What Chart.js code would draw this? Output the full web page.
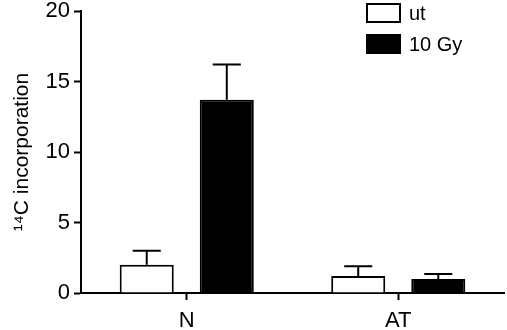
<!DOCTYPE html>
<html>
<head>
<meta charset="utf-8">
<script src="https://cdn.jsdelivr.net/npm/chart.js@4/dist/chart.umd.min.js"></script>
<style>
    html, body { margin: 0; padding: 0; background: #fff; }
</style>
</head>
<body>
<canvas id="chart" width="507" height="330"></canvas>
<script>
const categories = ['N', 'AT'];
const seriesNames = ['ut', '10 Gy'];
const utValues = [2.0, 1.2];
const utErrors = [3.0, 1.9];
const gyValues = [13.7, 1.0];
const gyErrors = [16.2, 1.35];
const yTicks = [0, 5, 10, 15, 20];

const FONT = 'Liberation Sans, Arial, sans-serif';

// upward-only error bars with a cap
const errorBars = {
    id: 'errorBars',
    afterDatasetsDraw(chart) {
        const ctx = chart.ctx;
        const yScale = chart.scales.y;
        ctx.save();
        ctx.strokeStyle = '#000';
        ctx.lineWidth = 2;
        chart.data.datasets.forEach((ds, i) => {
            chart.getDatasetMeta(i).data.forEach((bar, j) => {
                const top = yScale.getPixelForValue(ds.errorTop[j]);
                const cap = bar.width * 0.26;
                ctx.beginPath();
                ctx.moveTo(bar.x, bar.y);
                ctx.lineTo(bar.x, top);
                ctx.moveTo(bar.x - cap, top);
                ctx.lineTo(bar.x + cap, top);
                ctx.stroke();
            });
        });
        ctx.restore();
    }
};

const boxLegend = {
    id: 'boxLegend',
    afterDraw(chart) {
        const ctx = chart.ctx;
        ctx.save();
        ctx.font = '20px ' + FONT;
        ctx.textBaseline = 'middle';
        chart.data.datasets.forEach((ds, i) => {
            const y = 4 + i * 31;
            ctx.fillStyle = ds.backgroundColor;
            ctx.fillRect(367, y, 33, 18);
            ctx.strokeStyle = '#000';
            ctx.lineWidth = 2;
            ctx.strokeRect(367, y, 33, 18);
            ctx.fillStyle = '#000';
            ctx.fillText(ds.label, 409, y + 10);
        });
        ctx.restore();
    }
};

new Chart(document.getElementById('chart').getContext('2d'), {
    type: 'bar',
    data: {
        labels: categories,
        datasets: [
            {
                label: seriesNames[0],
                data: utValues,
                errorTop: utErrors,
                backgroundColor: '#ffffff',
                borderColor: '#000000',
                borderWidth: 2
            },
            {
                label: seriesNames[1],
                data: gyValues,
                errorTop: gyErrors,
                backgroundColor: '#000000',
                borderColor: '#000000',
                borderWidth: 2
            }
        ]
    },
    options: {
        responsive: false,
        animation: false,
        categoryPercentage: 0.757,
        barPercentage: 0.675,
        layout: {
            padding: { top: 11, right: 3, left: 0, bottom: 0 }
        },
        plugins: {
            legend: { display: false },
            tooltip: { enabled: false }
        },
        scales: {
            x: {
                grid: {
                    offset: false,
                    drawOnChartArea: false,
                    drawTicks: true,
                    tickLength: 7,
                    tickWidth: 2,
                    tickColor: '#000'
                },
                border: { color: '#000', width: 2 },
                ticks: {
                    color: '#000',
                    font: { family: FONT, size: 22 },
                    padding: 8
                },
                afterFit: scale => { scale.height = 37; }
            },
            y: {
                min: 0,
                max: 20,
                afterBuildTicks: scale => {
                    scale.ticks = yTicks.map(v => ({ value: v }));
                },
                grid: {
                    drawOnChartArea: false,
                    drawTicks: true,
                    tickLength: 7,
                    tickWidth: 2,
                    tickColor: '#000'
                },
                border: { color: '#000', width: 2 },
                ticks: {
                    color: '#000',
                    font: { family: FONT, size: 22 },
                    padding: 4
                },
                title: {
                    display: true,
                    text: '¹⁴C incorporation',
                    color: '#000',
                    font: { family: FONT, size: 21 },
                    padding: { top: 10, bottom: 4 }
                },
                afterFit: scale => {
                    scale.width = 81;
                    scale.paddingTop = 0;
                    scale.paddingBottom = 0;
                }
            }
        }
    },
    plugins: [errorBars, boxLegend]
});
</script>
</body>
</html>
